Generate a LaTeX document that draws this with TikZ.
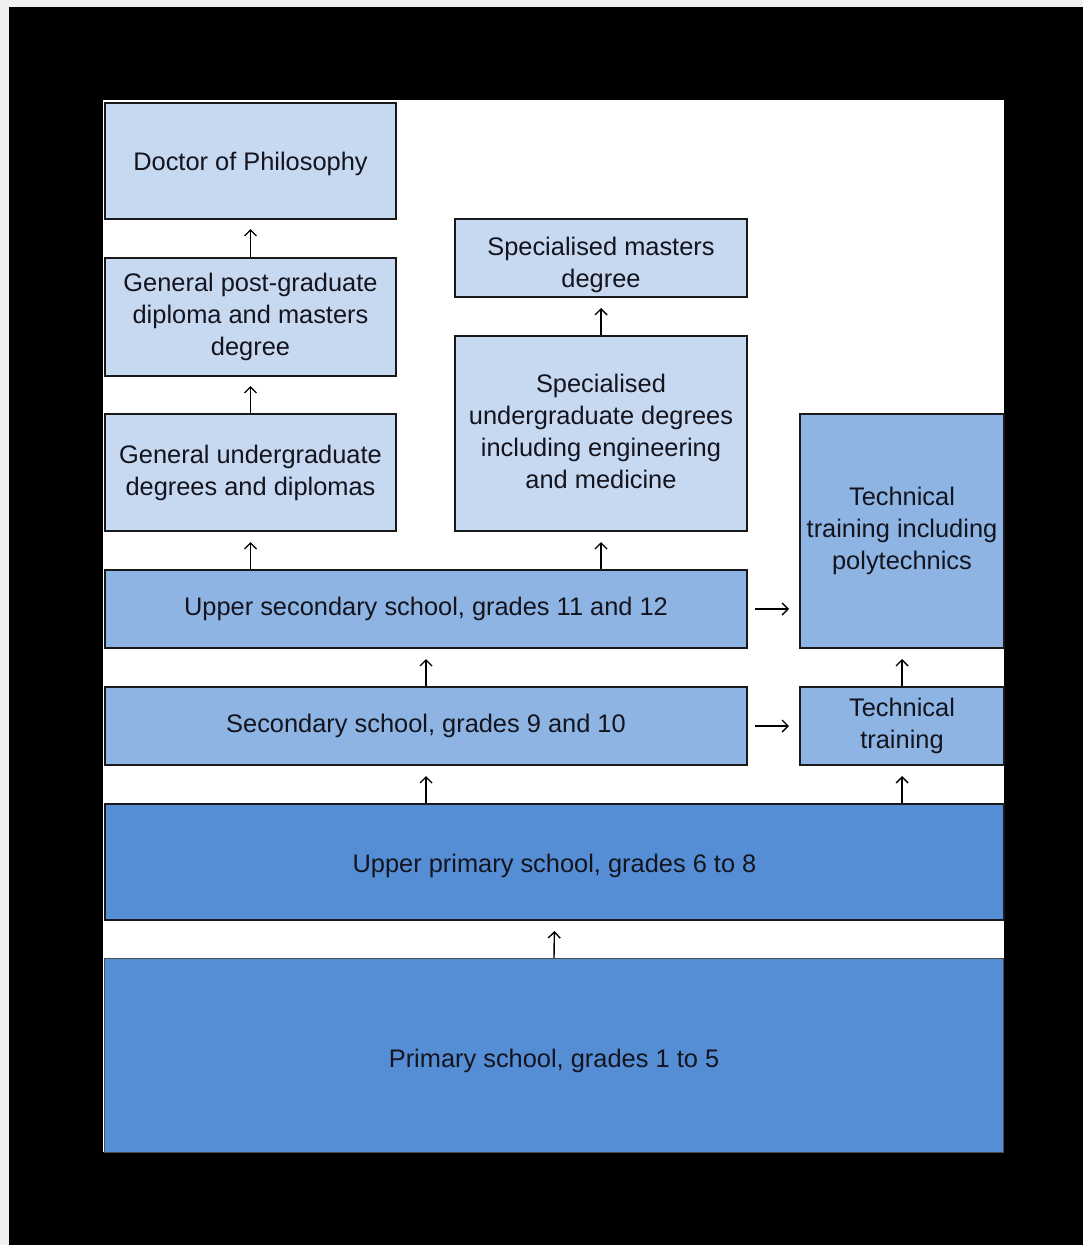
\documentclass[tikz,border=0pt]{standalone}
\usepackage{fontspec}
\setmainfont{Liberation Sans}
\usetikzlibrary{arrows.meta}
\definecolor{bgray}{HTML}{F0F0F0}
\definecolor{lightb}{HTML}{C6D9F0}
\definecolor{midb}{HTML}{8DB4E2}
\definecolor{darkb}{HTML}{558ED5}
\definecolor{txt}{HTML}{14141E}
\tikzset{
  txtst/.style={align=center, inner sep=0pt, text=txt, font=\fontsize{25.4}{32}\selectfont},
  box/.style={draw=black!90, line width=2pt, anchor=north west, txtst},
  lbl/.style={txtst, anchor=center},
  lb/.style={box, fill=lightb},
  mb/.style={box, fill=midb},
  db/.style={box, fill=darkb},
  arr/.style={draw=black, line width=1.4pt, -{Straight Barb[length=6pt,width=12pt]}},
}
\begin{document}
\begin{tikzpicture}[x=1pt,y=-1pt]
  \fill[bgray] (0,0) rectangle (1083,1245);
  \fill[black] (9,7) rectangle (1083,1245);
  \fill[white] (103,100) rectangle (1004,1152);
  \useasboundingbox (0,0) rectangle (1083,1245);

  \node[lb, minimum width=291pt, minimum height=116pt,
    label={[lbl,yshift=-3pt]center:{Doctor of Philosophy}}] (phd) at (104,102) {};
  \node[lb, minimum width=291pt, minimum height=118pt] (gp) at (104,257) {General post-graduate\\diploma and masters\\degree};
  \node[lb, minimum width=291pt, minimum height=117pt] (gu) at (104,413) {General undergraduate\\degrees and diplomas};
  \node[lb, minimum width=292pt, minimum height=78pt,
    label={[lbl,yshift=-7pt]center:{Specialised masters\\degree}}] (sm) at (454,218) {};
  \node[lb, minimum width=292pt, minimum height=195pt,
    label={[lbl,yshift=2pt]center:{Specialised\\undergraduate degrees\\including engineering\\and medicine}}] (su) at (454,335) {};
  \node[mb, minimum width=204pt, minimum height=234pt] (tp) at (799,413) {Technical\\training including\\polytechnics};
  \node[mb, minimum width=642pt, minimum height=78pt] (us) at (104,569) {Upper secondary school, grades 11 and 12};
  \node[mb, minimum width=642pt, minimum height=78pt] (sec) at (104,686) {Secondary school, grades 9 and 10};
  \node[mb, minimum width=204pt, minimum height=78pt] (tt) at (799,686) {Technical\\training};
  \node[db, minimum width=899pt, minimum height=116pt,
    label={[lbl,yshift=-4pt]center:{Upper primary school, grades 6 to 8}}] (up) at (104,803) {};
  \node[db, minimum width=899pt, minimum height=194pt, line width=1pt, draw=black!70,
    label={[lbl,yshift=-5pt]center:{Primary school, grades 1 to 5}}] (pr) at (104,958) {};

  \draw[arr, shorten >=9pt] (gp.north) -- (phd.south);
  \draw[arr, shorten >=9pt] (gu.north) -- (gp.south);
  \draw[arr, shorten >=10pt] (us.north -| gu.south) -- (gu.south);
  \draw[arr, shorten >=10pt] (su.north) -- (sm.south);
  \draw[arr, shorten >=10pt] (us.north -| su.south) -- (su.south);
  \draw[arr, shorten >=10pt] (sec.north) -- (us.south);
  \draw[arr, shorten >=10pt] (up.north -| sec.south) -- (sec.south);
  \draw[arr, shorten >=10pt] (up.north -| tt.south) -- (tt.south);
  \draw[arr, shorten >=10pt] (tt.north) -- (tp.south);
  \draw[arr, shorten >=10pt] (pr.north) -- (up.south);
  \draw[arr, shorten <=7pt, shorten >=10pt] (us.east) -- (us.east -| tp.west);
  \draw[arr, shorten <=7pt, shorten >=10pt] (sec.east) -- (sec.east -| tt.west);
\end{tikzpicture}
\end{document}
